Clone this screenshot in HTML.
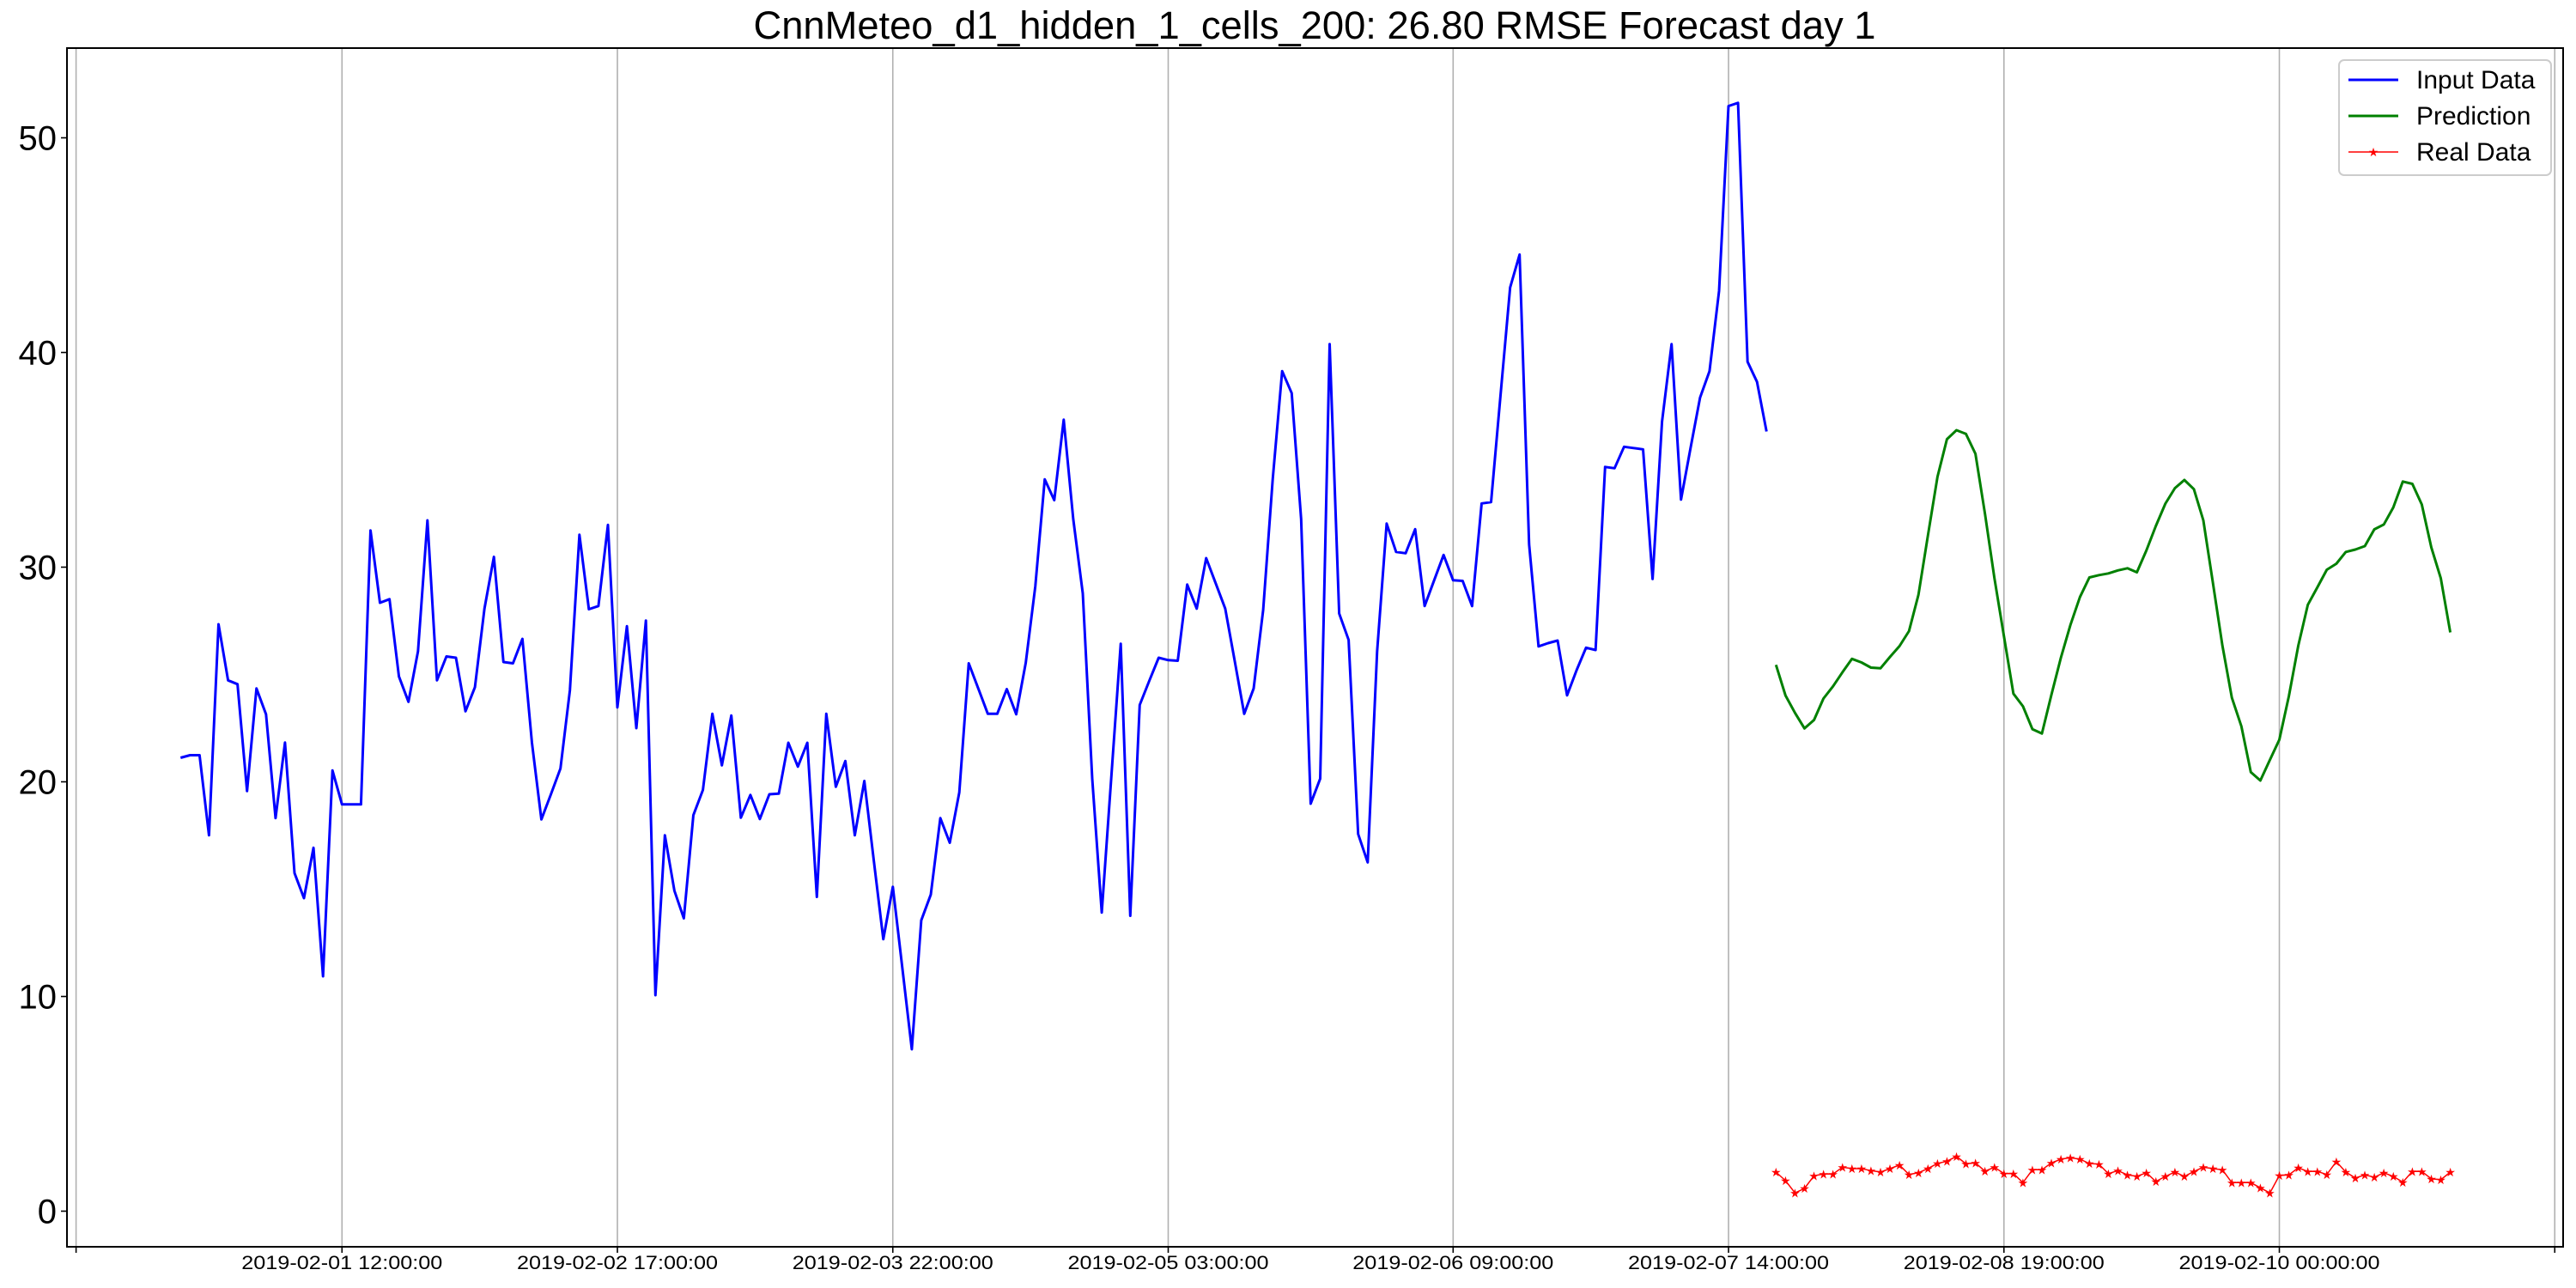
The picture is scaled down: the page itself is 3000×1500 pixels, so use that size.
<!DOCTYPE html>
<html><head><meta charset="utf-8"><style>
html,body{margin:0;padding:0;background:#fff;}
svg{display:block;font-family:"Liberation Sans","DejaVu Sans",sans-serif;}
</style></head><body>
<svg id="chart" width="3000" height="1500" viewBox="0 0 3000 1500" xmlns="http://www.w3.org/2000/svg">
<rect x="0" y="0" width="3000" height="1500" fill="#fff"/>
<text x="1531" y="45" font-size="45" text-anchor="middle" textLength="1307" lengthAdjust="spacingAndGlyphs">CnnMeteo_d1_hidden_1_cells_200: 26.80 RMSE Forecast day 1</text>
<g id="grid"></g>
<g id="series"></g>
<rect x="78" y="56" width="2907" height="1396" fill="none" stroke="#000" stroke-width="2"/>
<g id="axes"></g>
<g id="legend">
<rect x="2724" y="70" width="247" height="134" rx="6" fill="#fff" fill-opacity="0.8" stroke="#cccccc" stroke-width="2"/>
<g><line x1="2735" y1="93" x2="2793" y2="93" stroke="#0000ff" stroke-width="3"/><text x="2814" y="103" font-size="30">Input Data</text></g>
<g><line x1="2735" y1="135" x2="2793" y2="135" stroke="#008000" stroke-width="3"/><text x="2814" y="145" font-size="30">Prediction</text></g>
<g><line x1="2735" y1="177" x2="2793" y2="177" stroke="#ff0000" stroke-width="1.5"/><text x="2764" y="182" font-size="14" fill="#ff0000" text-anchor="middle">★</text><text x="2814" y="187" font-size="30">Real Data</text></g>
</g>
</svg>
<script>
const inputData = [21.12,21.24,21.24,17.51,27.34,24.73,24.55,19.57,24.35,23.15,18.31,21.83,15.75,14.58,16.93,10.94,20.53,18.95,18.95,18.95,31.71,28.34,28.51,24.91,23.73,26.08,32.18,24.73,25.84,25.78,23.29,24.41,28.07,30.48,
25.58,25.52,26.66,21.82,18.25,19.42,20.62,24.26,31.51,28.04,28.19,31.97,23.47,27.25,22.50,27.51,10.06,17.51,14.93,13.64,18.45,19.62,23.17,20.77,23.09,18.33,19.39,18.27,19.42,19.45,21.82,20.71,21.82,14.64,
23.17,19.77,20.97,17.51,20.04,16.34,12.67,15.11,11.35,7.54,13.55,14.75,18.31,17.16,19.51,25.52,24.35,23.17,23.17,24.32,23.15,25.55,29.10,34.09,33.12,36.87,32.24,28.78,20.15,13.91,20.15,26.43,13.76,
23.58,24.70,25.78,25.67,25.64,29.19,28.07,30.42,29.25,28.07,25.64,23.17,24.35,28.01,34.09,39.13,38.11,32.24,18.98,20.15,40.39,27.84,26.61,17.57,16.25,26.08,32.03,30.71,30.65,31.77,28.19,29.39,30.57,29.39,
29.36,28.19,32.97,33.03,38.05,43.03,44.56,31.06,26.31,26.46,26.58,24.03,25.20,26.25,26.14,34.67,34.61,35.61,35.55,35.49,29.45,36.78,40.39,33.15,35.55,37.90,39.13,42.86,51.48,51.63,39.57,38.63,36.32];
const predictionData = [25.45,24.02,23.21,22.49,22.88,23.88,24.45,25.11,25.73,25.56,25.32,25.29,25.82,26.32,27.02,28.71,31.49,34.21,35.96,36.38,36.21,35.28,32.49,29.49,26.78,24.11,23.52,22.45,22.25,24.06,25.78,27.31,28.61,29.52,29.63,29.71,
29.85,29.95,29.76,30.78,31.92,32.96,33.68,34.06,33.63,32.18,29.28,26.35,23.92,22.59,20.45,20.06,21.02,21.96,23.99,26.35,28.25,29.06,29.88,30.16,30.71,30.82,30.98,31.76,31.99,32.78,33.99,33.88,32.92,30.92,29.49,26.96];
const realData = [1.82,1.42,0.85,1.06,1.65,1.73,1.73,2.05,1.98,1.98,1.89,1.82,1.98,2.15,1.71,1.79,1.99,2.22,2.33,2.55,2.21,2.25,1.86,2.05,1.75,1.75,1.33,1.93,1.93,2.25,2.42,2.49,2.42,2.22,2.19,1.75,
1.89,1.69,1.62,1.79,1.38,1.62,1.82,1.62,1.85,2.05,1.98,1.93,1.33,1.33,1.33,1.09,0.85,1.66,1.69,2.02,1.85,1.85,1.71,2.31,1.82,1.55,1.69,1.58,1.79,1.62,1.35,1.85,1.85,1.51,1.46,1.82];
const inputStartHour = 11;
const predStartHour = 179;
const xTickHours = [0,28,57,86,115,145,174,203,232,261];
const xTickLabels = ["","2019-02-01 12:00:00","2019-02-02 17:00:00","2019-02-03 22:00:00","2019-02-05 03:00:00","2019-02-06 09:00:00","2019-02-07 14:00:00","2019-02-08 19:00:00","2019-02-10 00:00:00",""];
const yTicks = [0,10,20,30,40,50];

const NS = "http://www.w3.org/2000/svg";
function xScale(h){ return 88.6 + h*11.06; }
function yScale(v){ return 1410.5 - v*25; }
function mk(tag, attrs, parent){ const e=document.createElementNS(NS,tag); for(const k in attrs) e.setAttribute(k,attrs[k]); parent.appendChild(e); return e; }

const grid=document.getElementById('grid'), axes=document.getElementById('axes'), series=document.getElementById('series');
xTickHours.forEach((h,i)=>{
  const x=xScale(h);
  const g=mk('line',{x1:x,y1:56,x2:x,y2:1452,stroke:'#b0b0b0','stroke-width':1.6},grid);
  
  
  const t=mk('line',{x1:x,y1:1452,x2:x,y2:1459,stroke:'#000','stroke-width':1.6},axes);
  
  
  if(xTickLabels[i]){
    const l=mk('text',{x:x,y:1478,'font-size':22.5,'text-anchor':'middle',textLength:234,lengthAdjust:'spacingAndGlyphs'},axes);
    l.textContent=xTickLabels[i];
    
    
  }
});
yTicks.forEach(v=>{
  const y=yScale(v);
  const t=mk('line',{x1:71,y1:y,x2:78,y2:y,stroke:'#000','stroke-width':1.6},axes);
  
  
  const l=mk('text',{x:66,y:y+14,'font-size':40,'text-anchor':'end'},axes);
  l.textContent=String(v);
  
  
});
function pts(arr,start){ return arr.map((v,i)=>xScale(start+i).toFixed(1)+','+yScale(v).toFixed(1)).join(' '); }
const pin=mk('polyline',{points:pts(inputData,inputStartHour),fill:'none',stroke:'#0000ff','stroke-width':3,'stroke-linejoin':'round'},series);


const ppr=mk('polyline',{points:pts(predictionData,predStartHour),fill:'none',stroke:'#008000','stroke-width':3,'stroke-linejoin':'round'},series);


const pre=mk('polyline',{points:pts(realData,predStartHour),fill:'none',stroke:'#ff0000','stroke-width':1.5},series);


realData.forEach((v,i)=>{
  const m=mk('text',{x:xScale(predStartHour+i),y:yScale(v)+5,'font-size':14,fill:'#ff0000','text-anchor':'middle'},series);
  m.textContent='★';
  
  
});
</script>
</body></html>
